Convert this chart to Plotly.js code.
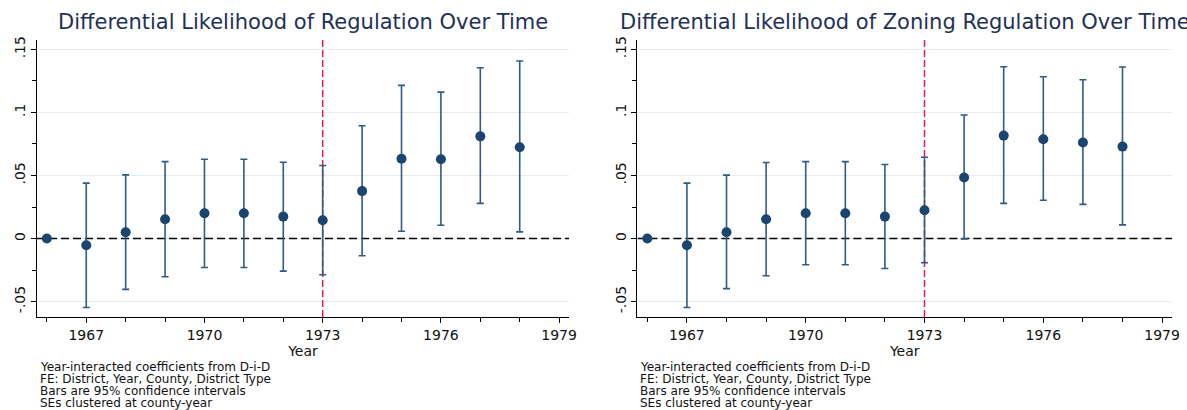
<!DOCTYPE html>
<html>
<head>
<meta charset="utf-8">
<script src="https://cdn.plot.ly/plotly-3.0.1.min.js"></script>
<style>
html,body{margin:0;padding:0;background:#fff;}
#chart{width:1187px;height:410px;}
</style>
</head>
<body>
<div id="chart"></div>
<script>
// ---- data ----
const years = [1966, 1967, 1968, 1969, 1970, 1971, 1972, 1973, 1974, 1975, 1976, 1977, 1978];

const regCoef  = [0, -0.0053, 0.0050, 0.0153, 0.0200, 0.0200, 0.0174, 0.0145, 0.0376, 0.0632, 0.0629, 0.0810, 0.0724];
const regHigh  = [0,  0.0439, 0.0505, 0.0610, 0.0629, 0.0629, 0.0605, 0.0579, 0.0894, 0.1214, 0.1161, 0.1354, 0.1407];
const regLow   = [0, -0.0547, -0.0403, -0.0303, -0.0229, -0.0229, -0.0258, -0.0287, -0.0137, 0.0058, 0.0105, 0.0279, 0.0053];

const zonCoef  = [0, -0.0053, 0.0050, 0.0153, 0.0200, 0.0200, 0.0174, 0.0224, 0.0484, 0.0816, 0.0787, 0.0761, 0.0729];
const zonHigh  = [0,  0.0439, 0.0503, 0.0603, 0.0610, 0.0610, 0.0587, 0.0645, 0.0979, 0.1362, 0.1283, 0.1259, 0.1360];
const zonLow   = [0, -0.0547, -0.0397, -0.0295, -0.0208, -0.0208, -0.0237, -0.0192, -0.0003, 0.0279, 0.0303, 0.0271, 0.0108];

const titles = ["Differential Likelihood of Regulation Over Time",
                "Differential Likelihood of Zoning Regulation Over Time"];
const xTickVals = [1967, 1970, 1973, 1976, 1979];
const yTickVals = [-0.05, 0, 0.05, 0.1, 0.15];
const yTickText = ["-.05", "0", ".05", ".1", ".15"];
const treatYear = 1973;
const refValue = 0;
const xTitle = "Year";
const notes = ["Year-interacted coefficients from D-i-D",
               "FE: District, Year, County, District Type",
               "Bars are 95% confidence intervals",
               "SEs clustered at county-year"];

// ---- styling ----
const FONT = "DejaVu Sans, sans-serif";
const markerCol = "#1b4471";
const barCol = "#2f5b87";
const titleCol = "#1f3158";
const xr = [1965.75, 1979.25];
const yr = [-0.0622, 0.1574];

function makeTrace(coef, hi, lo, xa, ya) {
  const plus = coef.map((c, i) => hi[i] - c);
  const minus = coef.map((c, i) => c - lo[i]);
  const hasBar = coef.map((c, i) => !(hi[i] === 0 && lo[i] === 0));
  return {
    type: "scatter", mode: "markers",
    x: years, y: coef, xaxis: xa, yaxis: ya,
    marker: {color: markerCol, size: 10},
    error_y: {type: "data", symmetric: false,
      array: plus.map((v, i) => hasBar[i] ? v : null),
      arrayminus: minus.map((v, i) => hasBar[i] ? v : null),
      color: barCol, thickness: 1.6, width: 3.5},
    showlegend: false, hoverinfo: "x+y"
  };
}
function refLines(xa, ya) {
  return [
    {type: "scatter", mode: "lines", x: xr, y: [refValue, refValue], xaxis: xa, yaxis: ya,
     line: {color: "#000", width: 1.5, dash: "8px,4px"}, showlegend: false, hoverinfo: "skip"},
    {type: "scatter", mode: "lines", x: [treatYear, treatYear], y: yr, xaxis: xa, yaxis: ya,
     line: {color: "#dc1f4e", width: 1.5, dash: "7px,3px"}, showlegend: false, hoverinfo: "skip"}
  ];
}

const traces = [
  ...refLines("x", "y"),
  ...refLines("x2", "y2"),
  makeTrace(regCoef, regHigh, regLow, "x", "y"),
  makeTrace(zonCoef, zonHigh, zonLow, "x2", "y2")
];

function xAxis(domain, anchor) {
  return {
    domain: domain, anchor: anchor, range: xr,
    tickmode: "array", tickvals: xTickVals,
    ticks: "outside", ticklen: 5, tickwidth: 1, tickcolor: "#000",
    showline: true, linecolor: "#000", linewidth: 1,
    showgrid: false, zeroline: false,
    tickfont: {family: FONT, size: 14, color: "#111"},
    minor: {dtick: 1, tick0: 1966, ticks: "outside", ticklen: 4, tickcolor: "#000", showgrid: false},
    title: {text: xTitle, font: {family: FONT, size: 14, color: "#111"}, standoff: 2}
  };
}
function yAxis(anchor) {
  return {
    domain: [0, 1], anchor: anchor, range: yr,
    tickmode: "array", tickvals: yTickVals, ticktext: yTickText, tickangle: -90,
    ticks: "outside", ticklen: 5, tickwidth: 1, tickcolor: "#000",
    showline: true, linecolor: "#000", linewidth: 1,
    showgrid: true, gridcolor: "#e6edf2", gridwidth: 1, zeroline: false,
    tickfont: {family: FONT, size: 14, color: "#111"},
    minor: {dtick: 0.025, tick0: 0, ticks: "outside", ticklen: 4, tickcolor: "#000", showgrid: false}
  };
}

const d1 = [0, 0.4687], d2 = [0.529, 1];

const annotations = [];
[d1, d2].forEach((d, k) => {
  annotations.push({xref: "paper", yref: "paper", x: (d[0] + d[1]) / 2, y: 1, yshift: 18,
    xanchor: "center", yanchor: "middle", showarrow: false, text: titles[k],
    font: {family: FONT, size: 21, color: titleCol}});
  notes.forEach((t, j) => {
    annotations.push({xref: "paper", yref: "paper", x: d[0], xshift: 1, y: 0, yshift: -(49.7 + 12.2 * j),
      xanchor: "left", yanchor: "middle", showarrow: false, text: t,
      font: {family: FONT, size: 12, color: "#111"}});
  });
});

const layout = {
  width: 1187, height: 410,
  margin: {l: 37, r: 15, t: 40, b: 93},
  paper_bgcolor: "#fff", plot_bgcolor: "#fff",
  xaxis: xAxis(d1, "y"), yaxis: yAxis("x"),
  xaxis2: xAxis(d2, "y2"), yaxis2: yAxis("x2"),
  annotations: annotations,
  font: {family: FONT}
};

Plotly.newPlot("chart", traces, layout, {displayModeBar: false, staticPlot: true});
</script>
</body>
</html>
